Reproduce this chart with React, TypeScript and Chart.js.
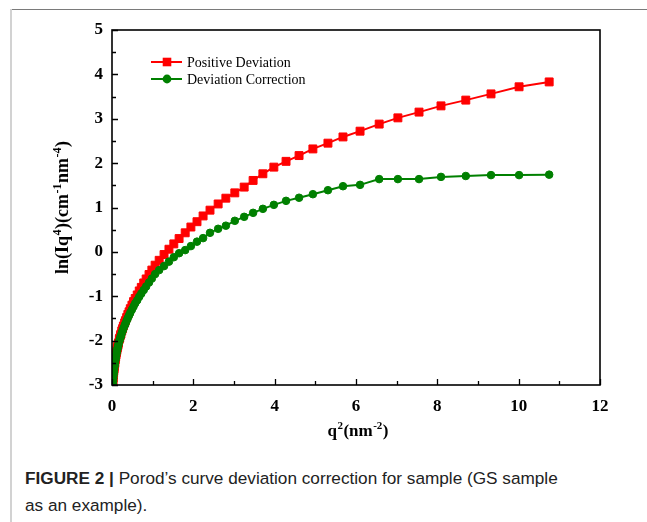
import React, { useEffect, useRef } from 'react';
import { Chart, registerables } from 'chart.js';

Chart.register(...registerables);

// ---- data ----
const q2 = [
  0.02, 0.025, 0.03, 0.035, 0.04, 0.045, 0.05, 0.055, 0.06, 0.065, 0.07, 0.08, 0.085, 0.09, 0.1,
  0.11, 0.12, 0.13, 0.14, 0.15, 0.16, 0.18, 0.19, 0.21, 0.22, 0.24, 0.26, 0.28, 0.31, 0.33,
  0.36, 0.39, 0.42, 0.45, 0.49, 0.53, 0.57, 0.62, 0.67, 0.72, 0.78, 0.84, 0.91, 0.98,
  1.06, 1.16, 1.28, 1.4, 1.52, 1.65, 1.8, 1.94, 2.09, 2.24, 2.41, 2.61, 2.8, 3.02, 3.25, 3.47,
  3.71, 3.98, 4.28, 4.6, 4.94, 5.31, 5.68, 6.1, 6.57, 7.03, 7.55, 8.09, 8.7, 9.32, 10.01, 10.75,
];

const positiveDeviation = [
  -2.97, -2.9, -2.84, -2.78, -2.73, -2.68, -2.64, -2.6, -2.56, -2.53, -2.5, -2.43, -2.4, -2.37, -2.32,
  -2.27, -2.22, -2.17, -2.13, -2.09, -2.05, -1.97, -1.94, -1.88, -1.85, -1.78, -1.73, -1.67, -1.6, -1.55,
  -1.48, -1.41, -1.35, -1.28, -1.2, -1.12, -1.05, -0.97, -0.88, -0.8, -0.7, -0.61, -0.51, -0.41,
  -0.3, -0.19, -0.06, 0.06, 0.18, 0.3, 0.43, 0.56, 0.68, 0.81, 0.94, 1.08, 1.21, 1.33, 1.46, 1.61,
  1.76, 1.91, 2.04, 2.17, 2.32, 2.45, 2.59, 2.72, 2.88, 3.02, 3.15, 3.29, 3.42, 3.56, 3.72, 3.83,
];

const deviationCorrection = [
  -2.98, -2.91, -2.85, -2.79, -2.74, -2.69, -2.65, -2.61, -2.57, -2.54, -2.51, -2.45, -2.42, -2.39, -2.34,
  -2.29, -2.24, -2.2, -2.16, -2.12, -2.08, -2.01, -1.98, -1.92, -1.89, -1.83, -1.78, -1.73, -1.66, -1.62,
  -1.55, -1.49, -1.43, -1.37, -1.3, -1.23, -1.16, -1.09, -1.01, -0.94, -0.86, -0.78, -0.69, -0.6,
  -0.5, -0.41, -0.32, -0.22, -0.12, -0.03, 0.04, 0.13, 0.23, 0.31, 0.43, 0.52, 0.59, 0.7, 0.79, 0.88,
  0.97, 1.06, 1.15, 1.22, 1.3, 1.39, 1.48, 1.51, 1.64, 1.64, 1.64, 1.69, 1.71, 1.73, 1.73, 1.74,
];

const seriesNames = ['Positive Deviation', 'Deviation Correction'];
const xTickLabels = [0, 2, 4, 6, 8, 10, 12];
const yTickLabels = [-3, -2, -1, 0, 1, 2, 3, 4, 5];
// axis titles as [text, isSuperscript] runs: q²(nm⁻²) and ln(Iq⁴)(cm⁻¹nm⁻⁴)
const xTitleRuns: [string, boolean][] = [['q', false], ['2', true], ['(nm', false], ['-2', true], [')', false]];
const yTitleRuns: [string, boolean][] = [
  ['ln(Iq', false], ['4', true], [')(cm', false], ['-1', true], ['nm', false], ['-4', true], [')', false],
];

const RED = '#ff0000';
const GREEN = '#008000';
const SERIF = "'Liberation Serif', 'Times New Roman', 'DejaVu Serif', serif";

function drawRuns(
  ctx: CanvasRenderingContext2D,
  runs: [string, boolean][],
  cx: number,
  cy: number,
  rot: number,
  size: number,
  supSize: number,
) {
  const main = `bold ${size}px ${SERIF}`;
  const sup = `bold ${supSize}px ${SERIF}`;
  let total = 0;
  const widths = runs.map(([t, s]) => {
    ctx.font = s ? sup : main;
    const w = ctx.measureText(t).width + (s ? 1 : 0);
    total += w;
    return w;
  });
  ctx.save();
  ctx.translate(cx, cy);
  ctx.rotate(rot);
  ctx.fillStyle = '#000';
  ctx.textAlign = 'left';
  ctx.textBaseline = 'alphabetic';
  let x = -total / 2;
  runs.forEach(([t, s], i) => {
    ctx.font = s ? sup : main;
    ctx.fillText(t, x + (s ? 0.5 : 0), s ? -1 : 6);
    x += widths[i];
  });
  ctx.restore();
}

const decorPlugin = {
  id: 'decor',
  afterDraw(chart: any) {
    const { ctx, chartArea: a, scales } = chart;
    const xs = scales.x;
    const ys = scales.y;
    ctx.save();
    ctx.strokeStyle = '#000';
    ctx.lineWidth = 1.6;
    ctx.strokeRect(a.left, a.top, a.right - a.left, a.bottom - a.top);
    ctx.lineWidth = 1.3;
    ctx.beginPath();
    for (let v = xs.min; v <= xs.max + 1e-9; v += 1) {
      const px = Math.round(xs.getPixelForValue(v)) + 0.5;
      const len = Math.abs(v % 2) < 1e-9 ? 6 : 4;
      ctx.moveTo(px, a.bottom);
      ctx.lineTo(px, a.bottom - len);
    }
    for (let v = ys.min; v <= ys.max + 1e-9; v += 0.5) {
      const py = Math.round(ys.getPixelForValue(v)) + 0.5;
      const len = Math.abs(v - Math.round(v)) < 1e-9 ? 6 : 4;
      ctx.moveTo(a.left, py);
      ctx.lineTo(a.left + len, py);
    }
    ctx.stroke();

    // axis titles
    drawRuns(ctx, xTitleRuns, (a.left + a.right) / 2 + 2, a.bottom + 45, 0, 17, 11);
    drawRuns(ctx, yTitleRuns, a.left - 50, (a.top + a.bottom) / 2, -Math.PI / 2, 18, 12);

    // legend (line + marker + label), inside the plot area
    const colors = [RED, GREEN];
    seriesNames.forEach((name, i) => {
      const y = a.top + 32 + i * 17;
      const x0 = a.left + 39;
      const x1 = a.left + 70;
      const xm = a.left + 55;
      ctx.strokeStyle = colors[i];
      ctx.fillStyle = colors[i];
      ctx.lineWidth = 2;
      ctx.beginPath();
      ctx.moveTo(x0, y);
      ctx.lineTo(x1, y);
      ctx.stroke();
      ctx.beginPath();
      if (i === 0) {
        ctx.rect(xm - 4.3, y - 4.3, 8.6, 8.6);
      } else {
        ctx.arc(xm, y, 4.4, 0, Math.PI * 2);
      }
      ctx.fill();
      ctx.fillStyle = '#000';
      ctx.font = `14px ${SERIF}`;
      ctx.textBaseline = 'middle';
      ctx.textAlign = 'left';
      ctx.fillText(name, a.left + 75, y + 1);
    });
    ctx.restore();
  },
};

export default function App() {
  const canvasRef = useRef<HTMLCanvasElement | null>(null);

  useEffect(() => {
    if (!canvasRef.current) return;
    const chart = new Chart(canvasRef.current, {
      type: 'scatter',
      data: {
        datasets: [
          {
            label: seriesNames[0],
            data: q2.map((x, i) => ({ x, y: positiveDeviation[i] })),
            showLine: true,
            borderColor: RED,
            backgroundColor: RED,
            borderWidth: 2,
            pointStyle: 'rect',
            pointRadius: 5.6,
            pointBorderWidth: 1,
            pointBorderColor: RED,
            order: 1,
          },
          {
            label: seriesNames[1],
            data: q2.map((x, i) => ({ x, y: deviationCorrection[i] })),
            showLine: true,
            borderColor: GREEN,
            backgroundColor: GREEN,
            borderWidth: 2,
            pointStyle: 'circle',
            pointRadius: 3.8,
            pointBorderWidth: 1,
            pointBorderColor: GREEN,
            order: 0,
          },
        ],
      },
      options: {
        animation: false,
        responsive: false,
        maintainAspectRatio: false,
        layout: { padding: { top: 30, right: 47, left: 0, bottom: 0 } },
        plugins: {
          legend: { display: false },
          tooltip: { enabled: false },
        },
        scales: {
          x: {
            type: 'linear',
            min: xTickLabels[0],
            max: xTickLabels[xTickLabels.length - 1],
            grid: { display: false, drawTicks: false, tickLength: 0 },
            border: { display: false },
            ticks: {
              stepSize: 2,
              padding: 11,
              color: '#000',
              font: { family: SERIF, weight: 'bold', size: 17 },
              callback: (v: any) => (xTickLabels.includes(Number(v)) ? String(v) : ''),
            },
            afterFit: (s: any) => {
              s.height = 55;
            },
          },
          y: {
            type: 'linear',
            min: yTickLabels[0],
            max: yTickLabels[yTickLabels.length - 1],
            grid: { display: false, drawTicks: false, tickLength: 0 },
            border: { display: false },
            ticks: {
              stepSize: 1,
              padding: 9,
              color: '#000',
              font: { family: SERIF, weight: 'bold', size: 17 },
              callback: (v: any) => (yTickLabels.includes(Number(v)) ? String(v) : ''),
            },
            afterFit: (s: any) => {
              s.width = 112;
            },
          },
        },
      },
      plugins: [decorPlugin],
    });
    return () => chart.destroy();
  }, []);

  return (
    <div
      style={{
        position: 'absolute',
        left: 0,
        top: 0,
        width: 647,
        height: 522,
        background: '#fff',
        overflow: 'hidden',
      }}
    >
      <div style={{ position: 'absolute', left: 10, right: 0, top: 9, height: 1, background: '#7a7a7a' }} />
      <div style={{ position: 'absolute', left: 10, width: 2, top: 9, bottom: 0, background: '#d2d2d2' }} />
      <canvas
        ref={canvasRef}
        width={647}
        height={440}
        style={{ position: 'absolute', left: 0, top: 0, width: 647, height: 440 }}
      />
      <div
        style={{
          position: 'absolute',
          left: 25,
          top: 465,
          fontFamily: "'Liberation Sans', Arial, Helvetica, sans-serif",
          fontSize: 17.2,
          lineHeight: '27px',
          color: '#222',
          whiteSpace: 'nowrap',
        }}
      >
        <b>FIGURE 2 |</b> Porod’s curve deviation correction for sample (GS sample
        <br />
        as an example).
      </div>
    </div>
  );
}
